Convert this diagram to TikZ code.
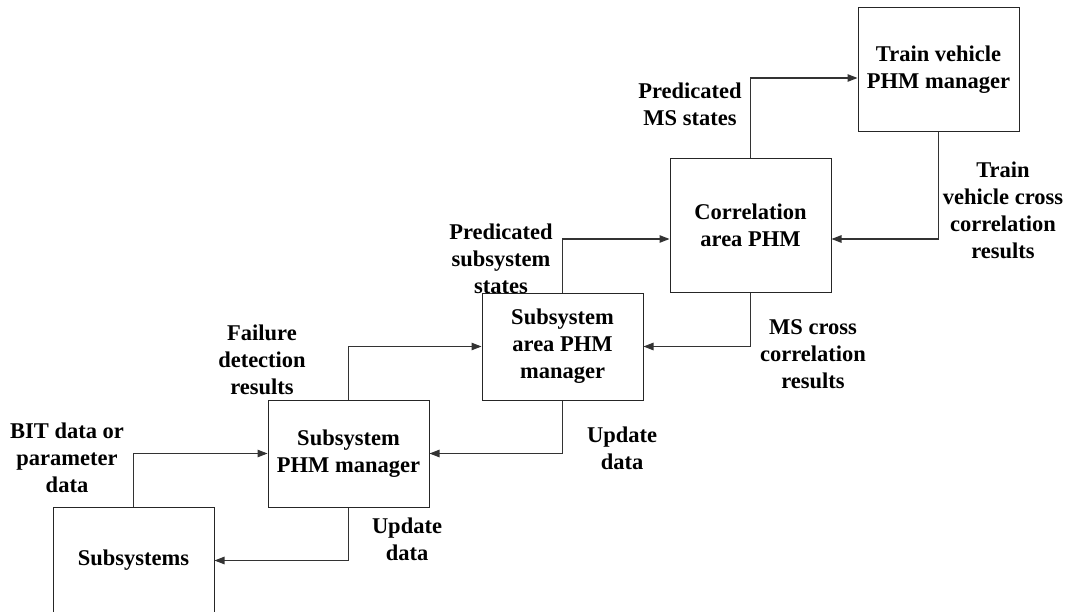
\documentclass[tikz,border=0pt]{standalone}
\usepackage{fontspec}
\setmainfont{Liberation Serif}
\usetikzlibrary{arrows.meta}
\begin{document}
\begin{tikzpicture}[x=1pt,y=-1pt,
  blk/.style={draw=black!85,line width=1pt,minimum width=161pt,inner sep=0pt,align=center,
    font=\fontsize{22.5}{27}\selectfont\bfseries},
  lbl/.style={inner sep=0pt,align=center,font=\fontsize{22.5}{27}\selectfont\bfseries},
  arr/.style={draw=black!80,line width=1.1pt,-{Triangle[length=10pt,width=7.5pt]}}]
\useasboundingbox (0,0) rectangle (1067,612);
\node[blk,minimum height=107pt] (sub) at (133.5,560.5) {Subsystems};
\node[blk,minimum height=107pt] (spm) at (348.5,453.5) {Subsystem\\PHM manager};
\node[blk,minimum height=107pt] (sapm) at (562.5,346.5) {Subsystem\\area PHM\\manager};
\node[blk,minimum height=133pt] (corr) at (750.5,225.5) {Correlation\\area PHM};
\node[blk,minimum height=124pt] (tv) at (938.5,70) {Train vehicle\\PHM manager};
\draw[arr] (sub.north) |- (spm.west);
\draw[arr] (spm.south) |- (sub.east);
\draw[arr] (spm.north) |- (sapm.west);
\draw[arr] (sapm.south) |- (spm.east);
\draw[arr] (sapm.north) |- ([yshift=-13.5pt]corr.west);
\draw[arr] (corr.south) |- (sapm.east);
\draw[arr] (corr.north) |- ([yshift=-8pt]tv.west);
\draw[arr] (tv.south) |- ([yshift=-13.5pt]corr.east);
\node[lbl] (l1) at (67,458) {BIT data or\\parameter\\data};
\node[lbl] (l2) at (407,539) {Update\\data};
\node[lbl] (l3) at (262,360) {Failure\\detection\\results};
\node[lbl] (l4) at (501,259) {Predicated\\subsystem\\states};
\node[lbl] (l5) at (622,448) {Update\\data};
\node[lbl] (l6) at (813,354) {MS cross\\correlation\\results};
\node[lbl] (l7) at (690,104) {Predicated\\MS states};
\node[lbl] (l8) at (1003,210) {Train\\vehicle cross\\correlation\\results};
\end{tikzpicture}
\end{document}
